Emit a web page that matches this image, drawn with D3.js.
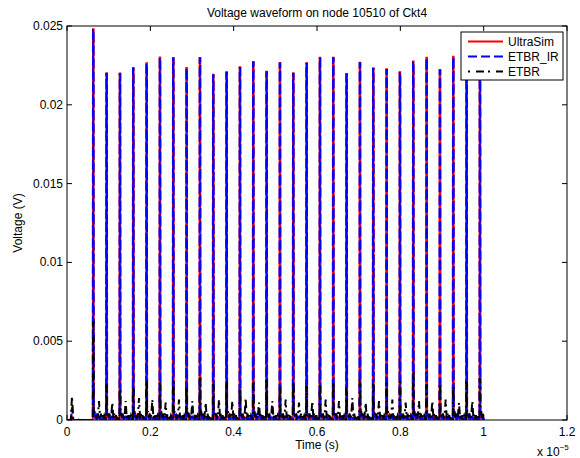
<!DOCTYPE html>
<html lang="en">
<head>
    <meta charset="UTF-8">
    <style>
        html, body { margin:0; padding:0; background:#fff; overflow:hidden; }
        svg { display:block; }
        text { font-family: Helvetica, Arial, "Liberation Sans", sans-serif; fill:#000; }
    </style>
    <script src="https://d3js.org/d3.v7.min.js"></script>
</head>
<body>
<svg width="580" height="458"></svg>
<script>
    // time in units of 1e-5 s
    var pulseT = [0.0624, 0.0944, 0.1264, 0.1584, 0.1904, 0.2224, 0.2544, 0.2864, 0.3184, 0.3504,
                  0.3824, 0.4144, 0.4464, 0.4784, 0.5104, 0.5424, 0.5744, 0.6064, 0.6384, 0.6704,
                  0.7024, 0.7344, 0.7664, 0.7984, 0.8304, 0.8624, 0.8944, 0.9264, 0.9584, 0.9904];

    var ultraPeak = [0.02479, 0.02200, 0.02198, 0.02234, 0.02263, 0.02300, 0.02297, 0.02234, 0.02295, 0.02191,
                     0.02206, 0.02238, 0.02272, 0.02210, 0.02265, 0.02200, 0.02263, 0.02298, 0.02298, 0.02196,
                     0.02267, 0.02231, 0.02225, 0.02206, 0.02274, 0.02298, 0.02221, 0.02305, 0.02280, 0.02250];

    var irPeak = [0.02475, 0.02196, 0.02196, 0.02228, 0.02260, 0.02296, 0.02293, 0.02230, 0.02295, 0.02186,
                  0.02203, 0.02234, 0.02268, 0.02206, 0.02262, 0.02196, 0.02260, 0.02294, 0.02295, 0.02193,
                  0.02263, 0.02228, 0.02221, 0.02203, 0.02270, 0.02295, 0.02218, 0.02300, 0.02276, 0.02246];

    var etbrPeak = [0.0062, 0.0022, 0.0020, 0.0021, 0.0025, 0.0023, 0.0024, 0.0021, 0.0026, 0.0022,
                    0.0024, 0.0020, 0.0023, 0.0025, 0.0022, 0.0024, 0.0021, 0.0023, 0.0024, 0.0020,
                    0.0025, 0.0022, 0.0023, 0.0024, 0.0030, 0.0022, 0.0023, 0.0021, 0.0024, 0.0026];

    var etbrMid = [0.0012, 0.0011, 0.0012, 0.0014, 0.0013, 0.0011, 0.0013, 0.0012, 0.0011, 0.0013,
                   0.0012, 0.0014, 0.0011, 0.0012, 0.0013, 0.0011, 0.0012, 0.0013, 0.0012, 0.0014,
                   0.0011, 0.0012, 0.0013, 0.0011, 0.0012, 0.0012, 0.0013, 0.0011, 0.0012, 0.0012];

    // small ripple after every pulse: offsets and levels (null = ETBR mid spike)
    var ripT     = [0.004, 0.006, 0.008, 0.010, 0.012, 0.0144, 0.017, 0.019, 0.021, 0.023, 0.025, 0.027, 0.029];
    var ultraRip = [0.00030, 0.00010, 0.00024, 0.00008, 0.00018, 0.00012, 0.00006, 0.00016, 0.00005, 0.00012, 0.00004, 0.00010, 0.00003];
    var irRip    = [0.00036, 0.00008, 0.00026, 0.00006, 0.00020, 0.00022, 0.00004, 0.00014, 0.00006, 0.00010, 0.00003, 0.00012, 0.00004];
    var etbrRip  = [0.00050, 0.00015, 0.00040, 0.00010, 0.00035, null, 0.00012, 0.00040, 0.00010, 0.00030, 0.00008, 0.00028, 0.00012];

    // start-up segment before the first pulse
    var startT     = [0.000, 0.009, 0.012, 0.015, 0.030, 0.060];
    var ultraStart = [0.0000, 0.0000, 0.0002, 0.0000, 0.0000, 0.0000];
    var irStart    = [0.0000, 0.0000, 0.0008, 0.0000, 0.0000, 0.0000];
    var etbrStart  = [0.0000, 0.0000, 0.0015, 0.0001, 0.0000, 0.0000];

    var pulseTop = 0.0014;   // time the pulse stays near its peak
    var endT = 1.0;

    var xTicks = [0, 0.2, 0.4, 0.6, 0.8, 1, 1.2];
    var xTickLabels = ["0", "0.2", "0.4", "0.6", "0.8", "1", "1.2"];
    var yTicks = [0, 0.005, 0.01, 0.015, 0.02, 0.025];
    var yTickLabels = ["0", "0.005", "0.01", "0.015", "0.02", "0.025"];

    var seriesNames = ["UltraSim", "ETBR_IR", "ETBR"];

    function buildTrace(startV, peaks, rip, mids) {
        var pts = [];
        startT.forEach(function(t, i) { pts.push([t, startV[i]]); });
        pulseT.forEach(function(t, k) {
            pts.push([t - 0.0004, 0]);
            pts.push([t, peaks[k]]);
            pts.push([t + pulseTop, peaks[k]]);
            pts.push([t + pulseTop + 0.0004, rip[0]]);
            ripT.forEach(function(dt, j) {
                var v = rip[j];
                if (v === null) v = mids[k];
                pts.push([t + dt, v]);
            });
        });
        pts = pts.filter(function(p) { return p[0] <= endT; });
        pts.push([endT, 0]);
        return pts;
    }

    var svg = d3.select("svg");
    var margin = {top: 26, right: 13, bottom: 38, left: 67};
    var width = 580 - margin.left - margin.right;
    var height = 458 - margin.top - margin.bottom;

    var x = d3.scaleLinear().domain([0, 1.2]).range([0, width]);
    var y = d3.scaleLinear().domain([0, 0.025]).range([height, 0]);

    var g = svg.append("g")
        .attr("transform", "translate(" + margin.left + "," + margin.top + ")");

    g.append("clipPath").attr("id", "clip")
        .append("rect").attr("x", 0).attr("y", -2).attr("width", width).attr("height", height + 2);

    var line = d3.line()
        .x(function(d) { return x(d[0]); })
        .y(function(d) { return y(d[1]); });

    var traces = [
        {data: buildTrace(ultraStart, ultraPeak, ultraRip, null), color: "#ff0000", dash: null},
        {data: buildTrace(irStart, irPeak, irRip, null), color: "#0000ff", dash: "10,3"},
        {data: buildTrace(etbrStart, etbrPeak, etbrRip, etbrMid), color: "#000000", dash: "8,4,2,4"}
    ];

    var plot = g.append("g").attr("clip-path", "url(#clip)");
    traces.forEach(function(tr) {
        plot.append("path")
            .datum(tr.data)
            .attr("fill", "none")
            .attr("stroke", tr.color)
            .attr("stroke-width", 2)
            .attr("stroke-dasharray", tr.dash)
            .attr("d", line);
    });

    // axes box with inward ticks
    g.append("rect")
        .attr("width", width).attr("height", height)
        .attr("fill", "none").attr("stroke", "#000").attr("stroke-width", 1);

    var tl = 5;
    g.selectAll(".xt").data(xTicks).enter().append("path")
        .attr("stroke", "#000")
        .attr("d", function(d) {
            var px = x(d);
            return "M" + px + "," + height + "V" + (height - tl) + "M" + px + ",0V" + tl;
        });
    g.selectAll(".yt").data(yTicks).enter().append("path")
        .attr("stroke", "#000")
        .attr("d", function(d) {
            var py = y(d);
            return "M0," + py + "H" + tl + "M" + width + "," + py + "H" + (width - tl);
        });

    g.selectAll(".xl").data(xTicks).enter().append("text")
        .attr("x", function(d) { return x(d); })
        .attr("y", height + 16)
        .attr("text-anchor", "middle")
        .style("font-size", "12px")
        .text(function(d, i) { return xTickLabels[i]; });

    g.selectAll(".yl").data(yTicks).enter().append("text")
        .attr("x", -4)
        .attr("y", function(d) { return y(d) + 4; })
        .attr("text-anchor", "end")
        .style("font-size", "12px")
        .text(function(d, i) { return yTickLabels[i]; });

    // exponent
    var ex = g.append("text").attr("x", width - 30).attr("y", height + 36).style("font-size", "12px");
    ex.append("tspan").text("x 10");
    ex.append("tspan").attr("dy", -6).style("font-size", "8px").text("\u22125");

    g.append("text")
        .attr("x", width / 2).attr("y", height + 29)
        .attr("text-anchor", "middle")
        .style("font-size", "12px")
        .text("Time (s)");

    g.append("text")
        .attr("transform", "translate(-45," + (height / 2) + ") rotate(-90)")
        .attr("text-anchor", "middle")
        .style("font-size", "12px")
        .text("Voltage (V)");

    g.append("text")
        .attr("x", width / 2).attr("y", -9)
        .attr("text-anchor", "middle")
        .style("font-size", "12px")
        .text("Voltage waveform on node 10510 of Ckt4");

    // legend
    var lg = g.append("g").attr("transform", "translate(" + (width - 106) + ",6)");
    lg.append("rect")
        .attr("width", 102).attr("height", 48)
        .attr("fill", "#fff").attr("stroke", "#000").attr("stroke-width", 1);
    seriesNames.forEach(function(name, i) {
        var yy = 9.5 + i * 15;
        lg.append("line")
            .attr("x1", 7).attr("x2", 42).attr("y1", yy).attr("y2", yy)
            .attr("stroke", traces[i].color)
            .attr("stroke-width", 2)
            .attr("stroke-dasharray", i === 2 ? "2,6,8,4" : (i === 1 ? "9,4" : null));
        lg.append("text")
            .attr("x", 47).attr("y", yy + 4)
            .style("font-size", "12px")
            .text(name);
    });
</script>
</body>
</html>
